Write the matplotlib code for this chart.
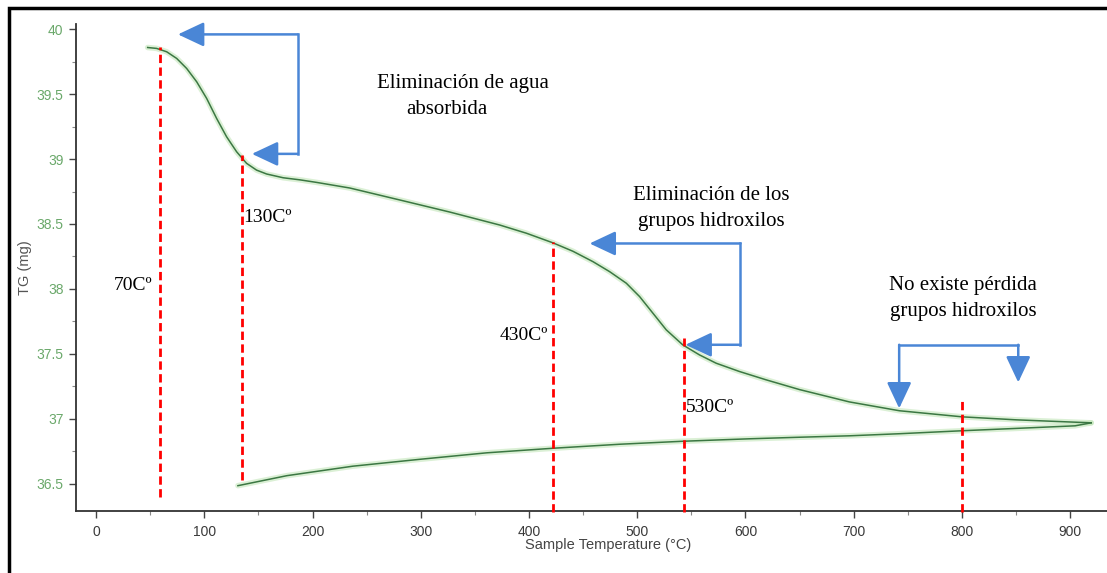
import matplotlib
matplotlib.use("Agg")
import matplotlib.pyplot as plt
from matplotlib.patches import Rectangle
from matplotlib.ticker import MultipleLocator, FixedLocator

# TGA run: heating branch then cooling branch
heat_temp = [47.7, 56.0, 65.3, 74.5, 83.7, 93.0, 102.2, 111.4, 120.6, 129.9,
             139.1, 148.3, 157.6, 172.9, 188.3, 204.0, 234.5, 280.6, 326.8, 373.0,
             397.6, 422.1, 440.6, 459.1, 474.5, 489.9, 502.2, 514.5, 526.8, 542.1,
             557.5, 572.9, 594.5, 619.1, 649.9, 696.0, 742.2, 800.3, 850.2, 880.0,
             919.4]
heat_mass = [39.859, 39.852, 39.826, 39.775, 39.698, 39.595, 39.467, 39.313, 39.172, 39.056,
             38.967, 38.915, 38.885, 38.856, 38.840, 38.820, 38.777, 38.685, 38.592, 38.492,
             38.429, 38.355, 38.290, 38.210, 38.133, 38.044, 37.941, 37.813, 37.685, 37.569,
             37.492, 37.428, 37.364, 37.300, 37.225, 37.130, 37.062, 37.015, 36.992, 36.982,
             36.969]
cool_temp = [919.4, 904.6, 852.9, 800.3, 742.2, 696.0, 649.9, 603.7, 541.9, 483.7,
             421.9, 360.9, 299.1, 237.2, 176.3, 131.1]
cool_mass = [36.969, 36.946, 36.927, 36.908, 36.885, 36.869, 36.858, 36.846, 36.827, 36.804,
             36.773, 36.738, 36.688, 36.635, 36.562, 36.485]

# Marker temperatures (dashed guides) with their span in mg
guide_temp = [59, 135, 422, 543, 800]
guide_top = [39.86, 39.03, 38.36, 37.62, 37.17]
guide_bottom = [36.40, 36.53, 36.28, 36.28, 36.28]

guide_labels = ["70Cº", "130Cº", "430Cº", "530Cº"]

x_ticks = [0, 100, 200, 300, 400, 500, 600, 700, 800, 900]
y_ticks = [36.5, 37, 37.5, 38, 38.5, 39, 39.5, 40]

W, H = 1107, 573
fig = plt.figure(figsize=(W / 100, H / 100), dpi=100)
fig.patch.set_facecolor("white")

ax = fig.add_axes([76 / W, 1 - 511 / H, 1 - 76 / W, (511 - 24) / H])
ax.set_xlim(-18.5, 934)
ax.set_ylim(36.29, 40.04)

for s in ("top", "right"):
    ax.spines[s].set_visible(False)
for s in ("left", "bottom"):
    ax.spines[s].set_color("#333333")
    ax.spines[s].set_linewidth(1.3)

ax.xaxis.set_major_locator(FixedLocator(x_ticks))
ax.xaxis.set_minor_locator(MultipleLocator(50))
ax.yaxis.set_major_locator(FixedLocator(y_ticks))
ax.yaxis.set_minor_locator(MultipleLocator(0.25))
ax.set_xticklabels([str(v) for v in x_ticks])
ax.set_yticklabels([("%g" % v) for v in y_ticks])
ax.tick_params(axis="both", which="major", length=5, width=1, color="#444444",
               labelsize=10)
ax.tick_params(axis="both", which="minor", length=3, width=0.8, color="#888888")
ax.tick_params(axis="x", labelcolor="#3a3a3a", pad=5)
ax.tick_params(axis="y", labelcolor="#6aa86a", pad=4)
for lab in ax.get_xticklabels() + ax.get_yticklabels():
    lab.set_family("Liberation Sans")

fig.text(608 / W, 1 - 545 / H, "Sample Temperature (°C)", ha="center", va="center",
         fontsize=10.5, color="#444444", family="Liberation Sans")
fig.text(25 / W, 1 - 268 / H, "TG (mg)", ha="center", va="center", rotation=90,
         fontsize=10.5, color="#555555", family="Liberation Sans")

# Curve with a soft green halo
for t, m in ((heat_temp, heat_mass), (cool_temp, cool_mass)):
    ax.plot(t, m, color="#c3e6ba", lw=4, alpha=0.6, solid_capstyle="round",
            solid_joinstyle="round", zorder=2)
    ax.plot(t, m, color="#3b7743", lw=1.1, solid_joinstyle="round", zorder=3)

# Dashed temperature guides
for t, top, bot in zip(guide_temp, guide_top, guide_bottom):
    ax.plot([t, t], [bot, top], color="#ff0000", lw=2, dashes=(3, 1.6),
            zorder=4, clip_on=False)

serif = "Liberation Serif"
tkw = dict(fontsize=14, family=serif, color="black", va="center")
ax.text(16, 38.03, guide_labels[0], ha="left", **tkw)
ax.text(136, 38.55, guide_labels[1], ha="left", **tkw)
ax.text(373, 37.64, guide_labels[2], ha="left", **tkw)
ax.text(545, 37.09, guide_labels[3], ha="left", **tkw)

nkw = dict(tkw, fontsize=15)
ax.text(260, 39.58, "Eliminación de agua", ha="left", **nkw)
ax.text(287, 39.38, "absorbida", ha="left", **nkw)
ax.text(568, 38.72, "Eliminación de los", ha="center", **nkw)
ax.text(568, 38.52, "grupos hidroxilos", ha="center", **nkw)
ax.text(801, 38.03, "No existe pérdida", ha="center", **nkw)
ax.text(801, 37.83, "grupos hidroxilos", ha="center", **nkw)

# Blue bracket arrows
blue = "#4a86d6"
akw = dict(arrowstyle="-|>,head_length=1.0,head_width=0.47", color=blue, lw=1.8,
           shrinkA=0, shrinkB=0, mutation_scale=16)


def bracket(points):
    xs = [p[0] for p in points]
    ys = [p[1] for p in points]
    ax.plot(xs[1:-1], ys[1:-1], color=blue, lw=1.8, solid_joinstyle="miter", zorder=5,
            clip_on=False)
    ax.annotate("", xy=points[0], xytext=points[1], arrowprops=akw, zorder=5)
    ax.annotate("", xy=points[-1], xytext=points[-2], arrowprops=akw, zorder=5)


bracket([(75.7, 39.96), (186.5, 39.96), (186.5, 39.04), (144.0, 39.04)])
bracket([(456.0, 38.35), (595.4, 38.35), (595.4, 37.57), (544.6, 37.57)])
bracket([(742.0, 37.08), (742.0, 37.57), (852.0, 37.57), (852.0, 37.28)])

# Outer frame
fig.add_artist(Rectangle((9 / W, -0.05), 1.2, 1 - 8 / H + 0.05,
                         transform=fig.transFigure, fill=False,
                         edgecolor="black", lw=2.5))

fig.savefig("out.png", dpi=100, facecolor="white")
